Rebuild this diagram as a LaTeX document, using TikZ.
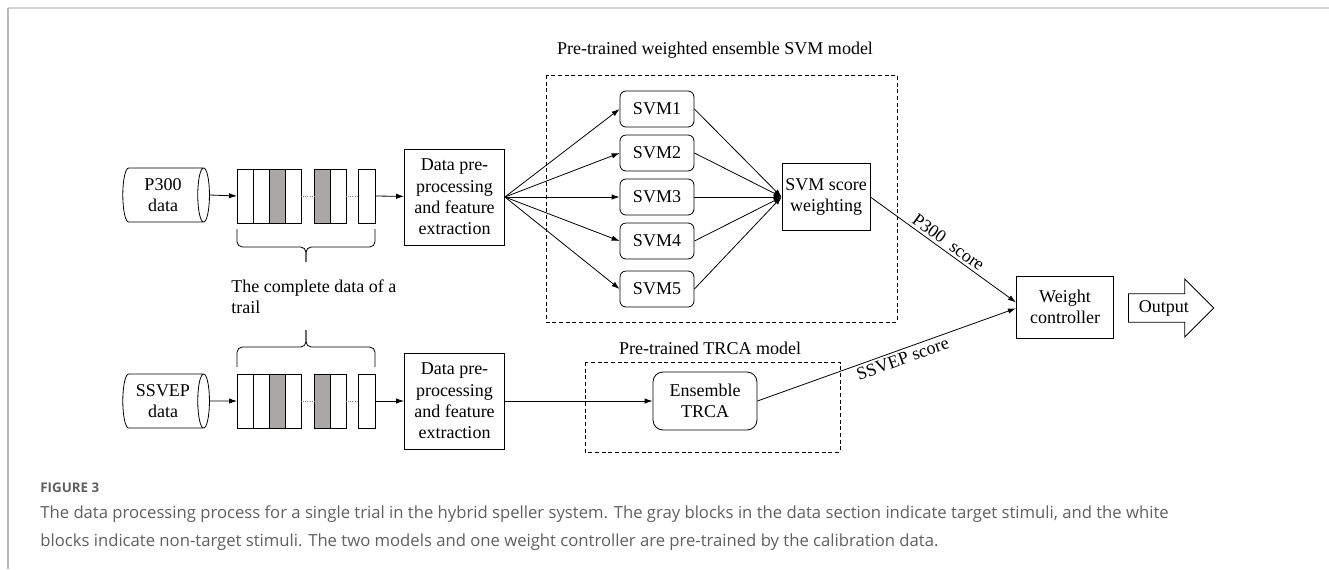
\documentclass[tikz,border=0pt]{standalone}
\usepackage{fontspec}
\setmainfont{Liberation Serif}
\newfontfamily\capfont{Open Sans}
\usetikzlibrary{shapes.geometric,shapes.arrows,arrows.meta}
\definecolor{capgray}{HTML}{5F5F5F}
\definecolor{blockgray}{HTML}{ABA7A7}

\begin{document}
\begin{tikzpicture}[x=0.75pt, y=-0.75pt, line width=0.6pt,
    every node/.style={font=\fontsize{13.5}{16}\selectfont},
    box/.style={draw, align=center, inner sep=0pt},
    svmbox/.style={box, rounded corners=4.5pt, minimum width=55.5pt, minimum height=27pt},
    datacyl/.style={cylinder, draw, align=center, aspect=0.35, minimum width=40.5pt, minimum height=65pt, inner sep=0pt},
    arr/.style={-{Latex[length=6pt,width=4pt]}},
    dashbox/.style={dash pattern=on 3pt off 2pt},
    bracket/.style={rounded corners=4pt},
    capline/.style={anchor=base west, inner sep=0pt, text=capgray, font=\capfont\fontsize{12.5}{15}\selectfont}]
    \useasboundingbox (0,0) rectangle (1329,569);
    \draw[gray!35, line width=1.5pt] (8,8) -- (1329,8);
    \draw[gray!55, line width=1.2pt] (8,8) -- (8,569);

    % P300 row
    \node[datacyl] (p300) at (163,195) {P300\\data};
    \fill[blockgray] (269,169) rectangle (285,223);
    \fill[blockgray] (314,169) rectangle (330,223);
    \draw (237,169) rectangle (301,223);
    \draw (253,169) -- (253,223);
    \draw (269,169) -- (269,223);
    \draw (285,169) -- (285,223);
    \draw (314,169) rectangle (346,223);
    \draw (330,169) -- (330,223);
    \draw (358,169) rectangle (375,223);
    \draw[gray, densely dotted] (301,196) -- (314,196);
    \draw[gray, densely dotted] (346,196) -- (358,196);
    \coordinate (row1in) at (237,196);
    \coordinate (row1out) at (375,196);
    \draw[bracket] (237,229) -- (237,247) -- (306,247) -- (306,262);
    \draw[bracket] (375,229) -- (375,247) -- (306,247) -- (306,262);

    \node[anchor=north west, align=left, inner sep=0pt] (traillbl) at (231,279) {The complete data of a\\trail};

    % SSVEP row
    \node[datacyl] (ssvep) at (163,401) {SSVEP\\data};
    \fill[blockgray] (269,374) rectangle (285,428);
    \fill[blockgray] (314,374) rectangle (330,428);
    \draw (237,374) rectangle (301,428);
    \draw (253,374) -- (253,428);
    \draw (269,374) -- (269,428);
    \draw (285,374) -- (285,428);
    \draw (314,374) rectangle (346,428);
    \draw (330,374) -- (330,428);
    \draw (358,374) rectangle (375,428);
    \draw[gray, densely dotted] (301,401) -- (314,401);
    \draw[gray, densely dotted] (346,401) -- (358,401);
    \coordinate (row2in) at (237,401);
    \coordinate (row2out) at (375,401);
    \draw[bracket] (237,367) -- (237,347) -- (306,347) -- (306,330);
    \draw[bracket] (375,367) -- (375,347) -- (306,347) -- (306,330);

    \node[box, minimum width=75pt, minimum height=72pt] (prep1) at (454.5,197) {Data pre-\\processing\\and feature\\extraction};
    \node[box, minimum width=75pt, minimum height=72pt] (prep2) at (454.5,401) {Data pre-\\processing\\and feature\\extraction};

    \draw[arr] (p300.east) -- (row1in);
    \draw[arr] (row1out) -- (prep1);
    \draw[arr] (ssvep.east) -- (row2in);
    \draw[arr] (row2out) -- (prep2);

    % SVM ensemble
    \draw[dashbox] (546,75) rectangle (897,322);
    \node (svmtitle) at (715,50) {Pre-trained weighted ensemble SVM model};
    \node[svmbox] (svm1) at (657,109) {SVM1};
    \node[svmbox] (svm2) at (657,153) {SVM2};
    \node[svmbox] (svm3) at (657,197) {SVM3};
    \node[svmbox] (svm4) at (657,241) {SVM4};
    \node[svmbox] (svm5) at (657,289) {SVM5};
    \node[box, minimum width=66pt, minimum height=50pt] (score) at (826,197) {SVM score\\weighting};
    \draw[arr] (prep1.east) -- (svm1.west);
    \draw[arr] (prep1.east) -- (svm2.west);
    \draw[arr] (prep1.east) -- (svm3.west);
    \draw[arr] (prep1.east) -- (svm4.west);
    \draw[arr] (prep1.east) -- (svm5.west);
    \draw[arr] (svm1.east) -- (score.west);
    \draw[arr] (svm2.east) -- (score.west);
    \draw[arr] (svm3.east) -- (score.west);
    \draw[arr] (svm4.east) -- (score.west);
    \draw[arr] (svm5.east) -- (score.west);

    % TRCA
    \draw[dashbox] (585,362) rectangle (840,452);
    \node (trcatitle) at (710,348) {Pre-trained TRCA model};
    \node[box, rounded corners=7.5pt, minimum width=78pt, minimum height=43.5pt] (trca) at (705,401) {Ensemble\\TRCA};
    \draw[arr] (prep2.east) -- (trca.west);

    % output side
    \node[box, minimum width=73pt, minimum height=46.5pt] (weight) at (1065,307) {Weight\\controller};
    \node[single arrow, draw, anchor=west, minimum height=64pt, minimum width=43.5pt,
          single arrow head extend=8.6pt, single arrow tip angle=90, inner sep=2pt] (output) at (1128,308) {Output};
    \draw[arr] (score.east) -- ([yshift=3.5pt]weight.west) node[midway, sloped, above, inner sep=2pt] {P300\ \ score};
    \draw[arr] (trca.east) -- ([yshift=-1pt]weight.west) node[pos=0.55, sloped, below, inner sep=2pt] {SSVEP score};

    % caption
    \node[capline, font=\capfont\bfseries\fontsize{10}{12}\selectfont] (figno) at (40,492) {FIGURE 3};
    \node[capline] (cap1) at (40,518) {The data processing process for a single trial in the hybrid speller system. The gray blocks in the data section indicate target stimuli, and the white};
    \node[capline] (cap2) at (40,546) {blocks indicate non-target stimuli. The two models and one weight controller are pre-trained by the calibration data.};
\end{tikzpicture}
\end{document}
